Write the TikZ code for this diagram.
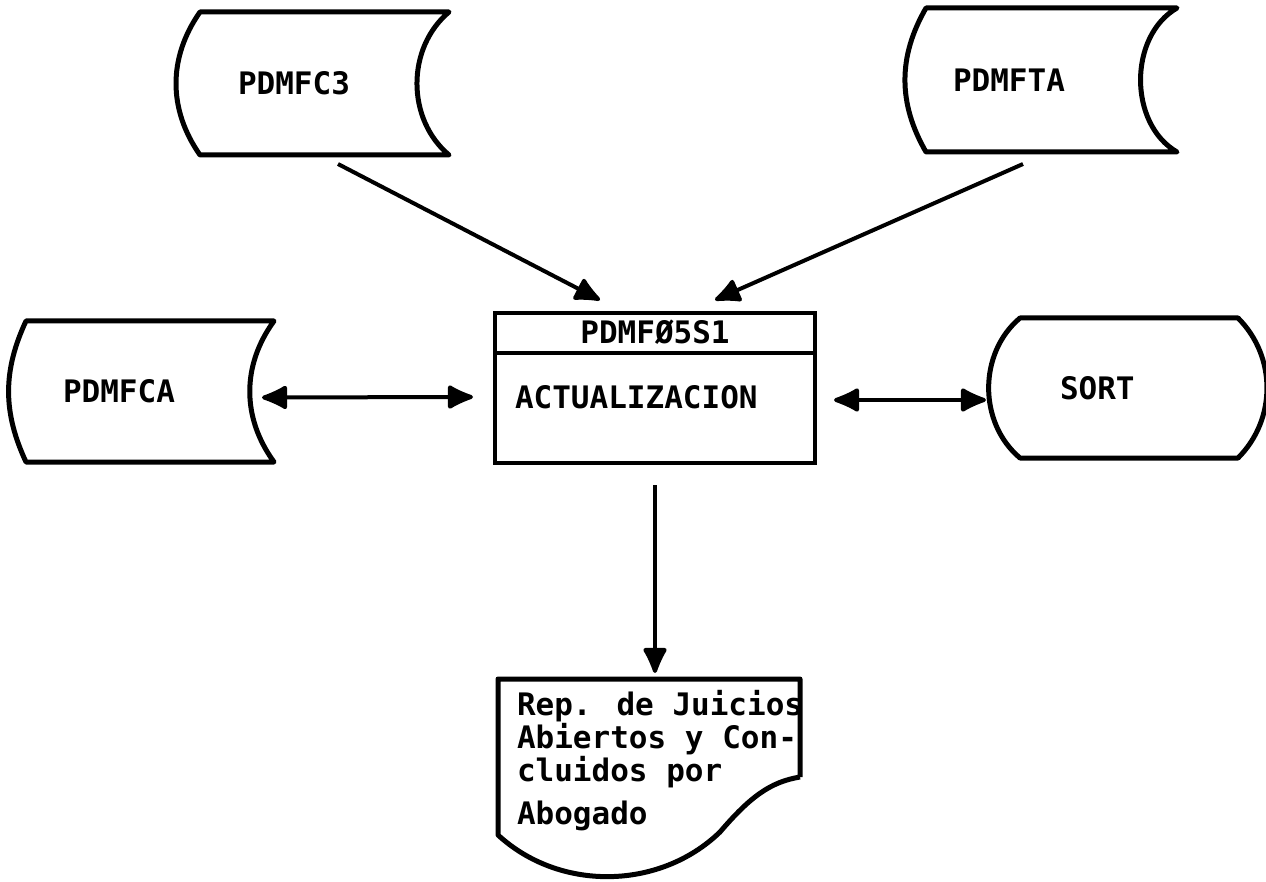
\documentclass[tikz,border=0pt]{standalone}
\usepackage{fontspec}
\newfontfamily\typefont{DejaVu Sans Mono}
\usetikzlibrary{arrows.meta}
\usetikzlibrary{positioning}

\begin{document}
\begin{tikzpicture}[x=1pt,y=-1pt,line width=4pt,>={Latex[length=30pt,width=27pt,round]}]
\tikzstyle{txt}=[font=\typefont\bfseries\fontsize{31}{33}\selectfont]
\tikzstyle{store}=[txt,rectangle,inner ysep=0pt,align=left]
\tikzstyle{edge}=[line width=5pt,line join=round]
\useasboundingbox (0,0) rectangle (1266,882);

\node [store,inner xsep=36pt,text width=173pt,minimum height=139pt] (c3) at (324.5,83.5) {PDMFC3};
\node [store,inner xsep=25pt,text width=197pt,minimum height=140pt] (ta) at (1051.5,80) {PDMFTA};
\node [store,inner xsep=35pt,text width=174pt,minimum height=137pt] (ca) at (150,391.5) {PDMFCA};
\node [store,inner xsep=38pt,text width=138pt,minimum height=136pt] (sort) at (1129,388) {SORT};

\foreach \n/\l/\r in {c3/35/50,ta/30/60,ca/25/36}
  \draw [edge] (\n.north west) to[bend right=\l] (\n.south west) -- (\n.south east)
    to[bend left=\r] (\n.north east) -- cycle;
\draw [edge] (sort.north west) to[bend right=50] (sort.south west) -- (sort.south east)
  to[bend right=45] (sort.north east) -- cycle;

\node [draw,rectangle,minimum width=320pt,minimum height=150pt] (proc) at (655,388) {};
\node [txt,inner sep=0pt] (pname) at ([yshift=-21pt]proc.north) {PDMFØ5S1};
\draw ([yshift=-42pt]proc.north west) -- ([yshift=-42pt]proc.north east);
\node [txt,anchor=west,inner sep=0pt] (act) at ([xshift=20pt,yshift=-9pt]proc.west) {ACTUALIZACION};

\node [rectangle,minimum width=302pt,minimum height=201pt,inner sep=0pt] (doc) at (651,777.5) {};
\begin{scope}[shift={(doc.south west)}]
  \draw [edge] (302,-103) -- (302,-201) -- (0,-201) -- (0,-45)
    .. controls (62,12) and (162,10) .. (222,-48)
    .. controls (252,-83) and (272,-98) .. (302,-103);
\end{scope}
\node [txt,anchor=north west,inner sep=0pt,align=left] (rep) at ([xshift=17pt,yshift=-13pt]doc.north west)
  {Rep. de Juicios\\Abiertos y Con-\\cluidos por\\[10pt]Abogado};

\draw [->] ([xshift=138pt,yshift=-9pt]c3.south west) -- ([xshift=107pt,yshift=11pt]proc.north west);
\draw [->] ([xshift=97pt,yshift=-12pt]ta.south west) -- ([xshift=222pt,yshift=11pt]proc.north west);
\draw [<->] ([xshift=-12pt,yshift=-6pt]ca.east) -- ([xshift=-20pt,yshift=-9pt]proc.west);
\draw [<->] ([xshift=17pt,yshift=-12pt]proc.east) -- ([xshift=-34pt,yshift=-12pt]sort.west);
\draw [->] ([yshift=-20pt]proc.south) -- ([xshift=4pt,yshift=2pt]doc.north);
\end{tikzpicture}
\end{document}
